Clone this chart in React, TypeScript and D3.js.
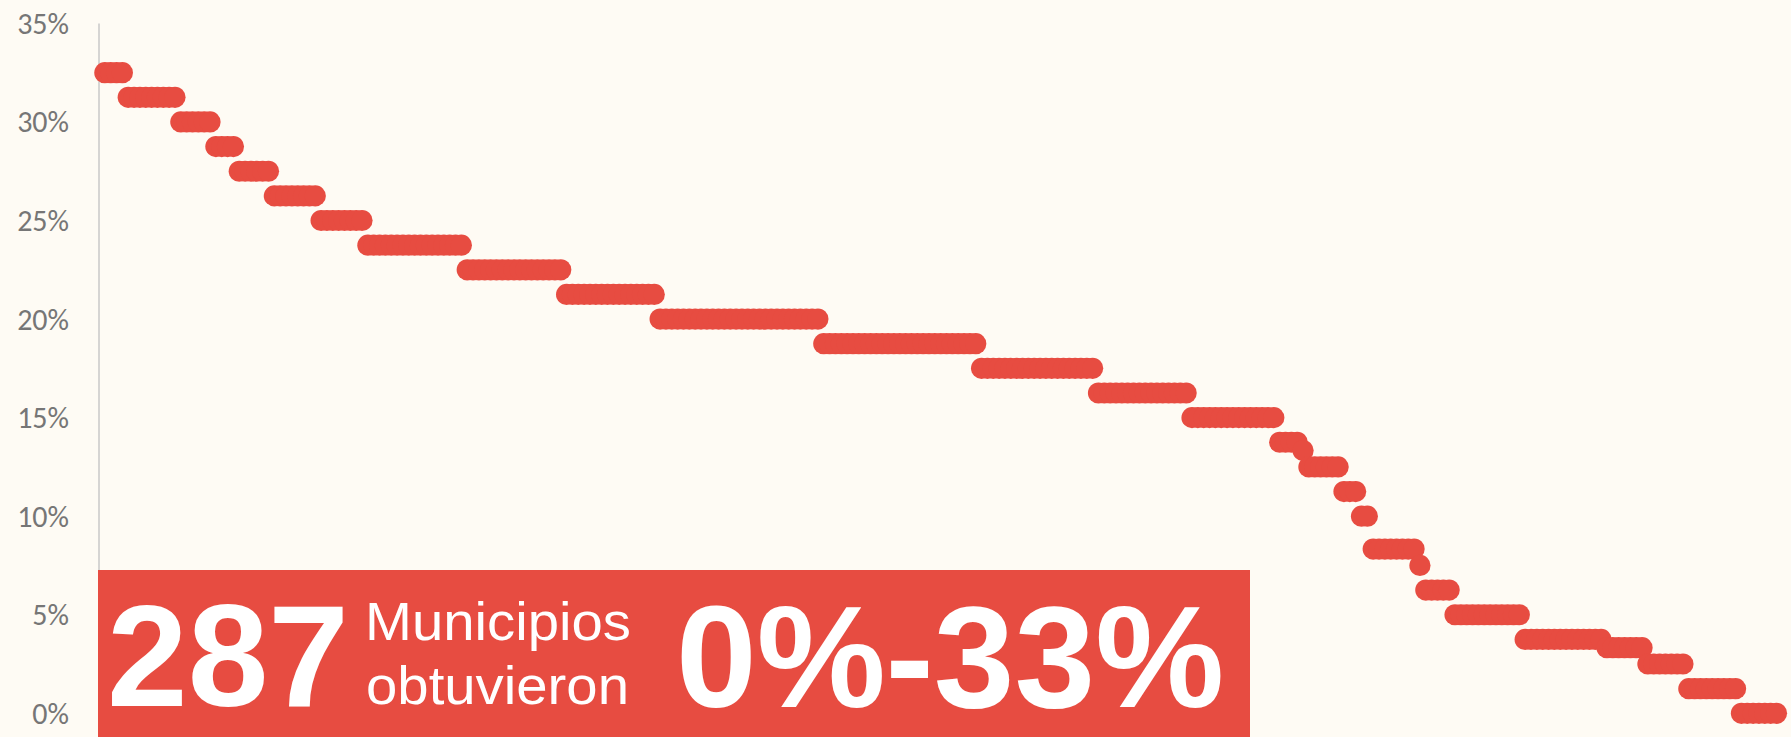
import React, { useEffect } from "react";
import * as d3 from "d3";

// Porcentaje obtenido (ordenado de mayor a menor) y número de municipios en cada nivel
const porcentajes = [32.5, 31.25, 30, 28.75, 27.5, 26.25, 25, 23.75, 22.5, 21.25, 20, 18.75, 17.5, 16.25, 15, 13.75, 13.33, 12.5, 11.25, 10, 8.33, 7.5, 6.25, 5, 3.75, 3.33, 2.5, 1.25, 0];
const municipiosPorNivel = [4, 9, 6, 4, 6, 8, 8, 17, 17, 16, 28, 27, 20, 16, 15, 4, 1, 6, 3, 2, 8, 1, 5, 12, 14, 7, 7, 9, 7];
const yTicks = [0, 5, 10, 15, 20, 25, 30, 35];
const totalMunicipios = "287";
const textoLinea1 = "Municipios";
const textoLinea2 = "obtuvieron";
const rangoTexto = "0%-33%";

const W = 1791;
const H = 737;
const BG = "#FEFBF4";
const RED = "#E74C41";

export default function App() {
  useEffect(() => {
    document.body.style.margin = "0";
  }, []);

  const valores: number[] = porcentajes.flatMap((p, i) =>
    Array.from({ length: municipiosPorNivel[i] }, () => p)
  );
  const n = valores.length;

  const x = d3.scaleLinear().domain([0, n]).range([99, 1776.5]);
  const y = d3.scaleLinear().domain([0, 35]).range([713.3, 23.4]);

  return (
    <svg width={W} height={H} style={{ display: "block" }}>
      <rect x={0} y={0} width={W} height={H} fill={BG} />
      {/* eje vertical */}
      <line x1={99} x2={99} y1={y(35)} y2={y(0)} stroke="#C9C9C9" strokeWidth={1.5} />
      {/* etiquetas del eje */}
      {yTicks.map((t) => (
        <text
          key={t}
          x={69}
          y={y(t) + 10.5}
          textAnchor="end"
          fontFamily="Carlito, Lato, 'Open Sans', sans-serif"
          fontSize={30}
          fill="#767676"
        >
          {`${t}%`}
        </text>
      ))}
      {/* puntos */}
      {valores.map((v, i) => (
        <circle key={i} cx={x(i + 1)} cy={y(v)} r={10.6} fill={RED} />
      ))}
      {/* recuadro */}
      <rect x={98} y={570} width={1250 - 98} height={H - 570} fill={RED} />
      <text
        x={107}
        y={705.7}
        fontFamily="'Liberation Sans', Arial, sans-serif"
        fontWeight="bold"
        fontSize={145}
        fill="#FFFFFF"
      >
        {totalMunicipios}
      </text>
      <text
        x={365}
        y={640}
        fontFamily="'Liberation Sans', Arial, sans-serif"
        fontSize={54}
        textLength={266}
        lengthAdjust="spacingAndGlyphs"
        fill="#FFFFFF"
      >
        {textoLinea1}
      </text>
      <text
        x={366}
        y={704}
        fontFamily="'Liberation Sans', Arial, sans-serif"
        fontSize={54}
        textLength={263}
        lengthAdjust="spacingAndGlyphs"
        fill="#FFFFFF"
      >
        {textoLinea2}
      </text>
      <text
        x={676}
        y={706.7}
        fontFamily="'Liberation Sans', Arial, sans-serif"
        fontWeight="bold"
        fontSize={145}
        fill="#FFFFFF"
      >
        {rangoTexto}
      </text>
    </svg>
  );
}
